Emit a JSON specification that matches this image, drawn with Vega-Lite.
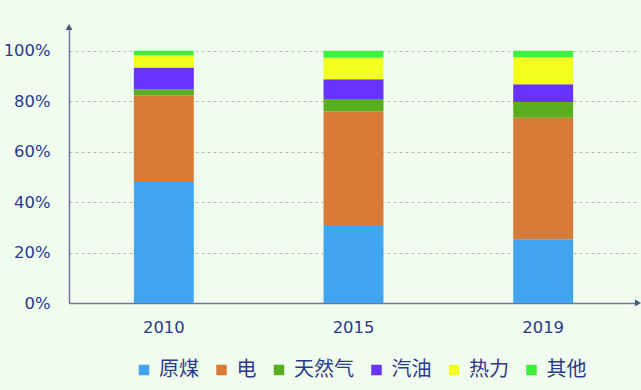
{
  "$schema": "https://vega.github.io/schema/vega-lite/v6.json",
  "autosize": {"type": "none"},
  "width": 569,
  "height": 276,
  "padding": {"left": 69, "top": 27, "right": 3, "bottom": 87},
  "background": "#F0FCEE",
  "config": {
    "view": {"stroke": null},
    "font": "DejaVu Sans"
  },
  "layer": [
    {
      "data": {
        "values": [
          {"year": "2010", "cat": "原煤", "o": 1, "v": 48.0},
          {"year": "2010", "cat": "电", "o": 2, "v": 34.2},
          {"year": "2010", "cat": "天然气", "o": 3, "v": 2.5},
          {"year": "2010", "cat": "汽油", "o": 4, "v": 8.6},
          {"year": "2010", "cat": "热力", "o": 5, "v": 4.9},
          {"year": "2010", "cat": "其他", "o": 6, "v": 1.8},
          {"year": "2015", "cat": "原煤", "o": 1, "v": 30.9},
          {"year": "2015", "cat": "电", "o": 2, "v": 45.0},
          {"year": "2015", "cat": "天然气", "o": 3, "v": 5.0},
          {"year": "2015", "cat": "汽油", "o": 4, "v": 7.8},
          {"year": "2015", "cat": "热力", "o": 5, "v": 8.5},
          {"year": "2015", "cat": "其他", "o": 6, "v": 2.8},
          {"year": "2019", "cat": "原煤", "o": 1, "v": 25.3},
          {"year": "2019", "cat": "电", "o": 2, "v": 48.1},
          {"year": "2019", "cat": "天然气", "o": 3, "v": 6.3},
          {"year": "2019", "cat": "汽油", "o": 4, "v": 7.0},
          {"year": "2019", "cat": "热力", "o": 5, "v": 10.7},
          {"year": "2019", "cat": "其他", "o": 6, "v": 2.6}
        ]
      },
      "mark": {"type": "bar"},
      "encoding": {
        "x": {
          "field": "year", "type": "nominal",
          "scale": {"paddingInner": 0.684, "paddingOuter": 0.342},
          "axis": {
            "title": null, "labelAngle": 0, "labelFontSize": 16.4,
            "labelColor": "#2B3A8A", "labelPadding": 16, "ticks": false,
            "domainColor": "#6A7A96", "domainWidth": 1.5
          }
        },
        "y": {
          "field": "v", "type": "quantitative", "stack": "zero",
          "scale": {"domain": [0, 109.4], "nice": false},
          "axis": {
            "title": null, "values": [0, 20, 40, 60, 80, 100],
            "labelExpr": "datum.value + '%'",
            "labelFontSize": 16.4, "labelColor": "#2B3A8A", "labelPadding": 19,
            "ticks": false,
            "domainColor": "#6A7A96", "domainWidth": 1.5,
            "gridColor": "#BBBBBB", "gridDash": [3, 3], "gridWidth": 1
          }
        },
        "order": {"field": "o", "type": "quantitative"},
        "color": {
          "field": "cat", "type": "nominal",
          "scale": {
            "domain": ["原煤", "电", "天然气", "汽油", "热力", "其他"],
            "range": ["#42A5F0", "#D97B38", "#5AAE1E", "#6633FF", "#F2FF1E", "#3EF03E"]
          },
          "legend": {
            "title": null, "orient": "none", "direction": "horizontal",
            "legendX": 65, "legendY": 333,
            "symbolType": "square", "symbolSize": 110, "symbolStrokeWidth": 0,
            "labelFont": "Noto Sans CJK SC", "labelFontSize": 20,
            "labelColor": "#2B3A8A", "labelOffset": 5, "columnPadding": 12.5
          }
        }
      }
    },
    {
      "data": {
        "values": [
          {"ax": 0, "ay": 109.4, "shp": "triangle-up"},
          {"ax": 1, "ay": 0, "shp": "triangle-right"}
        ]
      },
      "mark": {"type": "point", "filled": true, "size": 50, "color": "#4A5A7A", "opacity": 1},
      "encoding": {
        "x": {"field": "ax", "type": "quantitative", "scale": {"domain": [0, 1], "nice": false, "zero": false}, "axis": null},
        "y": {"field": "ay", "type": "quantitative"},
        "shape": {"field": "shp", "type": "nominal", "scale": null, "legend": null}
      }
    }
  ],
  "resolve": {"scale": {"x": "independent", "color": "independent", "shape": "independent"}}
}
